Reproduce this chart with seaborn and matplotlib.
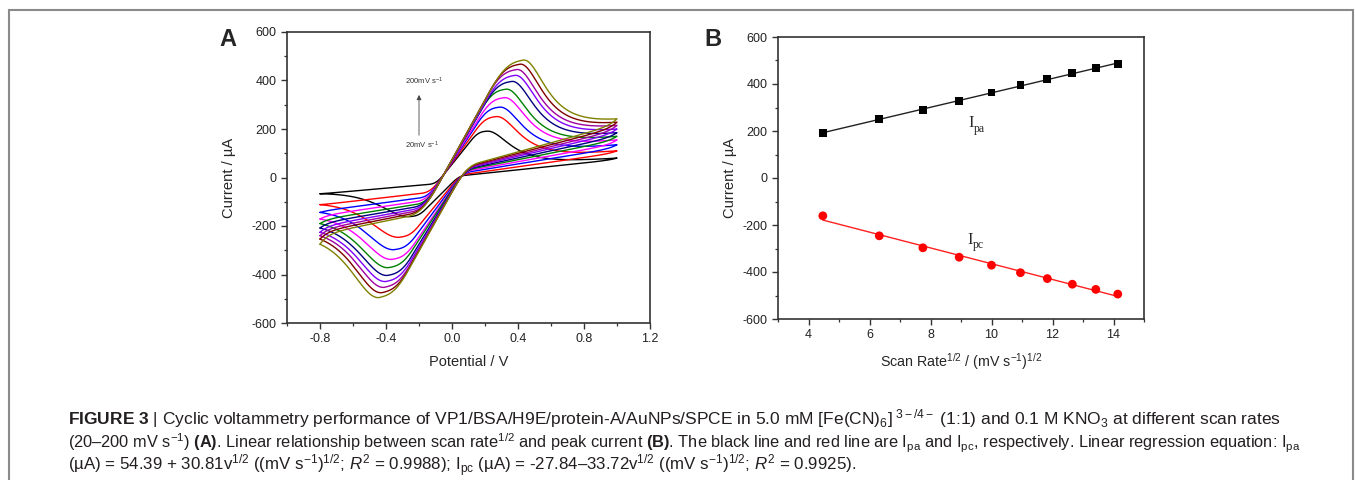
import numpy as np
import pandas as pd
import matplotlib
matplotlib.use("Agg")
import matplotlib.pyplot as plt
import seaborn as sns
from matplotlib.ticker import MultipleLocator, FormatStrFormatter
from matplotlib.patches import Rectangle

# ---------------- data ----------------
scan_rates = [20, 40, 60, 80, 100, 120, 140, 160, 180, 200]          # mV/s
sqrt_rate = [4.47, 6.32, 7.75, 8.94, 10.0, 10.95, 11.83, 12.65, 13.42, 14.14]
ipa = [191, 251, 290, 329, 364, 396, 421, 445, 467, 484]              # uA
ipc = [-161, -246, -297, -337, -371, -403, -428, -452, -474, -494]    # uA
epa = [0.21, 0.267, 0.287, 0.315, 0.325, 0.36, 0.38, 0.39, 0.41, 0.43]          # V
epc = [-0.25, -0.314, -0.344, -0.358, -0.378, -0.384, -0.394, -0.404, -0.418, -0.434]
i_left = [-67, -112, -144, -171, -190, -208, -226, -240, -254, -275]   # current at -0.8 V vertex
i_right = [80, 110, 135, 155, 170, 185, 200, 215, 228, 242]            # current at +1.0 V vertex
fwd_plateau = [-50, -90, -112, -128, -142, -154, -165, -175, -184, -193]  # forward sweep at -0.5 V
fwd_slope = [60, 78, 90, 100, 108, 115, 122, 128, 133, 137]               # uA/V
rev_shoulder = [25, 35, 45, 53, 60, 66, 72, 77, 82, 87]                   # reverse sweep at +0.3 V
rev_slope = [70, 95, 110, 122, 135, 147, 158, 168, 178, 187]              # uA/V
fwd_cross = (-0.05, 12)    # common crossing of the anodic sweeps
rev_cross = (0.06, 6)      # common crossing of the cathodic sweeps
colors = ['#000000', '#ff0000', '#0000ff', '#ff00ff', '#008000',
          '#000080', '#8000ff', '#a000a0', '#800000', '#808000']

# ---------------- style ----------------
sns.set_theme(style="ticks")
plt.rcParams.update({
    'font.family': ['Liberation Sans', 'DejaVu Sans'],
    'mathtext.fontset': 'custom',
    'mathtext.rm': 'Liberation Sans',
    'mathtext.it': 'Liberation Sans:italic',
    'mathtext.bf': 'Liberation Sans:bold',
    'axes.unicode_minus': False,
    'axes.edgecolor': '#333333',
    'axes.linewidth': 1.2,
    'xtick.color': '#333333', 'ytick.color': '#333333',
    'xtick.labelcolor': '#222222', 'ytick.labelcolor': '#222222',
})

# ---------------- CV curve construction from read parameters ----------------
tg = np.linspace(0, 1, 2001)
def _sm(x):
    x = np.clip(x, 0, 1)
    return 3 * x**2 - 2 * x**3
slope_prof = _sm(tg / 0.3) * _sm((1 - tg) / 0.3)
Hv = np.concatenate([[0], np.cumsum((slope_prof[1:] + slope_prof[:-1]) / 2)])
Hv = Hv / Hv[-1]
def H(t):
    return np.interp(np.clip(t, 0, 1), tg, Hv)
def Hinv(v):
    return np.interp(np.clip(v, 1e-4, 0.95), Hv, tg)

ca, cc = 0.18, 0.25
rows = []
for i in range(len(scan_rates)):
    # forward (anodic) sweep -0.8 -> 1.0
    Ef = np.linspace(-0.8, 1.0, 700)
    basef = lambda E: fwd_plateau[i] + fwd_slope[i] * (E + 0.5)
    trf = lambda E: (i_left[i] - basef(-0.8)) * np.exp(-(E + 0.8) / 0.05)
    A = ipa[i] - basef(epa[i])
    hx = (fwd_cross[1] - basef(fwd_cross[0]) - trf(fwd_cross[0])) / A
    tx = Hinv(hx)
    foot = (fwd_cross[0] - tx * epa[i]) / (1 - tx)
    r = (i_right[i] - basef(1.0)) / A
    e_end = 1 / (1 + ((1.0 - epa[i]) / ca) ** 2)
    L = (r - e_end) / (1 - e_end)
    wave = np.where(Ef <= epa[i],
                    A * H((Ef - foot) / (epa[i] - foot)),
                    A * (L + (1 - L) / (1 + ((Ef - epa[i]) / ca) ** 2)))
    If = basef(Ef) + trf(Ef) + wave
    # reverse (cathodic) sweep 1.0 -> -0.8
    Er = np.linspace(1.0, -0.8, 700)
    baser = lambda E: rev_shoulder[i] + rev_slope[i] * (E - 0.3)
    trr = lambda E: (i_right[i] - baser(1.0)) * np.exp(-(1.0 - E) / 0.05)
    B = baser(epc[i]) - ipc[i]
    hy = (baser(rev_cross[0]) + trr(rev_cross[0]) - rev_cross[1]) / B
    ty = Hinv(hy)
    footc = (rev_cross[0] - ty * epc[i]) / (1 - ty)
    rr = (baser(-0.8) - i_left[i]) / B
    e_end = 1 / (1 + ((epc[i] + 0.8) / cc) ** 2)
    Lc = (rr - e_end) / (1 - e_end)
    wave_r = np.where(Er >= epc[i],
                      -B * H((footc - Er) / (footc - epc[i])),
                      -B * (Lc + (1 - Lc) / (1 + ((epc[i] - Er) / cc) ** 2)))
    Ir = baser(Er) + trr(Er) + wave_r
    E = np.concatenate([Ef, Er])
    I = np.concatenate([If, Ir])
    rows.append(pd.DataFrame({'E': E, 'I': I, 'rate': scan_rates[i],
                              'order': np.arange(len(E))}))
cv = pd.concat(rows, ignore_index=True)

# ---------------- figure ----------------
fig = plt.figure(figsize=(13.55, 4.8), dpi=100)
fig.patches.append(Rectangle((9 / 1355, -0.05), (1353 - 9) / 1355, 1.05 - 10 / 480,
                             transform=fig.transFigure, fill=False,
                             edgecolor='#8a8a8a', lw=1.5))

axA = fig.add_axes([287 / 1355, 1 - 323 / 480, (650 - 287) / 1355, (323 - 32) / 480])
axB = fig.add_axes([778 / 1355, 1 - 319 / 480, (1144 - 778) / 1355, (319 - 37) / 480])

for i, rate in enumerate(scan_rates):
    d = cv[cv['rate'] == rate]
    sns.lineplot(data=d, x='E', y='I', sort=False, estimator=None,
                 color=colors[i], lw=1.0, ax=axA, legend=False)

axA.set_xlim(-1.0, 1.2)
axA.set_ylim(-600, 600)
axA.xaxis.set_major_locator(MultipleLocator(0.4))
axA.xaxis.set_minor_locator(MultipleLocator(0.2))
axA.xaxis.set_major_formatter(FormatStrFormatter('%.1f'))
axA.yaxis.set_major_locator(MultipleLocator(200))
axA.yaxis.set_minor_locator(MultipleLocator(100))
axA.set_xlabel('Potential / V', fontsize=10.5, labelpad=7)
axA.set_ylabel('Current / µA', fontsize=10.6, labelpad=11)
axA.annotate('', xy=(-0.2, 352), xytext=(-0.2, 163),
             arrowprops=dict(arrowstyle='-|>', color='#444444', lw=0.6, mutation_scale=7))
axA.text(-0.17, 395, '200mV s$^{-1}$', fontsize=5.5, ha='center', va='center', color='#333333')
axA.text(-0.18, 133, '20mV s$^{-1}$', fontsize=5.5, ha='center', va='center', color='#333333')

bdf = pd.DataFrame({'x': sqrt_rate, 'ipa': ipa, 'ipc': ipc})
sns.regplot(data=bdf, x='x', y='ipa', scatter=False, ci=None, truncate=True,
            line_kws=dict(color='#222222', lw=1.0), ax=axB)
sns.regplot(data=bdf, x='x', y='ipc', scatter=False, ci=None, truncate=True,
            line_kws=dict(color='#ff2020', lw=1.0), ax=axB)
sns.scatterplot(data=bdf, x='x', y='ipa', marker='s', s=32, color='black',
                edgecolor='none', ax=axB, zorder=3)
sns.scatterplot(data=bdf, x='x', y='ipc', marker='o', s=40, color='#ff0000',
                edgecolor='none', ax=axB, zorder=3)
axB.set_xlim(3, 15)
axB.set_ylim(-600, 600)
axB.xaxis.set_major_locator(MultipleLocator(2))
axB.xaxis.set_minor_locator(MultipleLocator(1))
axB.yaxis.set_major_locator(MultipleLocator(200))
axB.yaxis.set_minor_locator(MultipleLocator(100))
axB.set_xlabel('Scan Rate$^{1/2}$ / (mV s$^{-1}$)$^{1/2}$', fontsize=10.3, labelpad=7)
axB.set_ylabel('Current / µA', fontsize=10.6, labelpad=4)
axB.text(9.25, 233, 'I', family='Liberation Serif', fontsize=12, ha='left', va='center')
axB.annotate('pa', xy=(9.25, 233), xytext=(4, -4), textcoords='offset points',
             family='Liberation Serif', fontsize=8.5, ha='left', va='center')
axB.text(9.2, -262, 'I', family='Liberation Serif', fontsize=12, ha='left', va='center')
axB.annotate('pc', xy=(9.2, -262), xytext=(4, -4), textcoords='offset points',
             family='Liberation Serif', fontsize=8.5, ha='left', va='center')

for ax in (axA, axB):
    ax.tick_params(which='major', direction='out', length=4, width=1.0, labelsize=9,
                   top=False, right=False)
    ax.tick_params(which='minor', direction='out', length=2.5, width=0.9,
                   top=False, right=False)
    for s in ax.spines.values():
        s.set_visible(True)
        s.set_color('#333333')
        s.set_linewidth(1.2)

fig.text(228 / 1355, 1 - 40 / 480, 'A', fontsize=17, fontweight='bold', ha='center', va='center')
fig.text(713 / 1355, 1 - 40 / 480, 'B', fontsize=17, fontweight='bold', ha='center', va='center')

cap_col = '#231f20'
cap1 = (r'$\mathbf{FIGURE\ 3}$ | Cyclic voltammetry performance of VP1/BSA/H9E/protein-A/AuNPs/SPCE '
        r'in 5.0 mM [Fe(CN)$_6$]$^{\ 3-/4-}$ (1:1) and 0.1 M KNO$_3$ at different scan rates')
cap2 = (r'(20–200 mV s$^{-1}$) $\mathbf{(A)}$. Linear relationship between scan rate$^{1/2}$ and peak '
        r'current $\mathbf{(B)}$. The black line and red line are I$_{\rm pa}$ and I$_{\rm pc}$, '
        r'respectively. Linear regression equation: I$_{\rm pa}$')
cap3 = (r'(µA) = 54.39 + 30.81v$^{1/2}$ ((mV s$^{-1}$)$^{1/2}$; $R^2$ = 0.9988); I$_{\rm pc}$ (µA) = '
        r'-27.84–33.72v$^{1/2}$ ((mV s$^{-1}$)$^{1/2}$; $R^2$ = 0.9925).')
for txt, yp, fs in ((cap1, 419, 12.5), (cap2, 443, 11.8), (cap3, 466, 12.2)):
    fig.text(68 / 1355, 1 - yp / 480, txt, fontsize=fs, color=cap_col, ha='left', va='center')

fig.savefig('out.png', dpi=100)
